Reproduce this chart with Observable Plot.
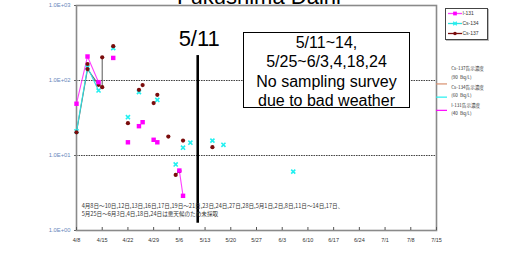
<!DOCTYPE html>
<html><head><meta charset="utf-8">
<script src="https://cdn.jsdelivr.net/npm/d3@7"></script>
<script src="https://cdn.jsdelivr.net/npm/@observablehq/plot@0.6"></script>
<style>
body{margin:0;background:#fff;font-family:"Liberation Sans",Arial,sans-serif;}
#wrap{position:relative;width:518px;height:267px;overflow:hidden;}
#chart{position:absolute;left:0;top:0;}
#title{position:absolute;left:0;width:518px;top:-14px;text-align:center;font-size:22px;line-height:22px;color:#000;}
#note{position:absolute;left:243px;top:33px;width:167px;height:76px;box-sizing:border-box;border:1.5px solid #000;background:#fff;
 text-align:center;font-size:16px;line-height:19.3px;padding-top:0;margin-top:-1px;color:#000;}
#legend{position:absolute;left:445px;top:8px;width:43px;height:32px;box-sizing:border-box;border:1.5px solid #444;background:#fff;box-shadow:1px 1px 0 #bbb;}
</style></head>
<body><div id="wrap"><div id="chart"></div><div id="title"></div><div id="note"></div><div id="legend"></div></div>
<script>
// ---- data ----
const title = "Fukushima Daini";
const xTickLabels = ["4/8","4/15","4/22","4/29","5/6","5/13","5/20","5/27","6/3","6/10","6/17","6/24","7/1","7/8","7/15"];
const yTickValues = [1, 10, 100, 1000];
const yTickLabels = ["1.0E+00","1.0E+01","1.0E+02","1.0E+03"];

const i131Dates  = ["4/8","4/11","4/14","4/18","4/22","4/25","4/26","4/29","4/30","5/6","5/7"];
const i131Values = [49, 209, 95, 200, 15, 24.6, 27.8, 16.2, 15, 6.3, 2.9];
const i131Runs   = [1, 1, 1, 0, 0, 0, 0, 0, 0, 2, 2];

const cs134Dates  = ["4/8","4/11","4/14","4/18","4/22","4/25","4/30","5/5","5/7","5/9","5/15","5/18","6/6"];
const cs134Values = [21, 150, 73.6, 270, 32.4, 70, 55, 7.6, 12.7, 14.8, 15.8, 13.9, 6.1];
const cs134Runs   = [1, 1, 1, 0, 0, 0, 0, 0, 0, 0, 0, 0, 0];

const cs137Dates  = ["4/8","4/11","4/11","4/14","4/15","4/15","4/18","4/22","4/25","4/26","4/29","4/30","5/3","5/5","5/6","5/7","5/15"];
const cs137Values = [20.4, 142, 166, 87.6, 81.5, 204, 287, 27, 75, 87, 50, 64.5, 17.9, 5.5, 6.2, 15.8, 12.9];
const cs137Runs   = [1, 1, 0, 1, 1, 1, 0, 0, 0, 0, 0, 0, 0, 2, 2, 0, 0];

const seriesNames  = ["I-131", "Cs-134", "Cs-137"];
const seriesColors = ["#ff00ff", "#22f0f0", "#7a0c0c"];
const lineColors   = ["#ff40ff", "#30e0e0", "#666666"];

const limitNames  = ["Cs-137告示濃度", "Cs-134告示濃度", "I-131告示濃度"];
const limitUnits  = ["(90  Bq/L)", "(60  Bq/L)", "(40  Bq/L)"];
const limitValues = [90, 60, 40];
const limitColors = ["#d8906e", "#22f0f0", "#ff00ff"];

const eventDate = "5/11";
const eventLabel = "5/11";
const noteLines = ["5/11~14,", "5/25~6/3,4,18,24", "No sampling survey", "due to bad weather"];
const jpNote = ["4月8日～10日,12日,13日,16日,17日,19日～21日,23日,24日,27日,28日,5月1日,2日,8日,11日～14日,17日、",
                "5月25日～6月3日,4日,18日,24日は悪天候のため未採取"];

// ---- build ----
const parse = s => { const [m, d] = s.split("/").map(Number); return new Date(2011, m - 1, d); };
const rows = (name, dates, values, runs) => dates.map((d, i) => ({series: name, date: parse(d), value: values[i], run: runs[i]}));
const data = [
  ...rows("I-131", i131Dates, i131Values, i131Runs),
  ...rows("Cs-134", cs134Dates, cs134Values, cs134Runs),
  ...rows("Cs-137", cs137Dates, cs137Values, cs137Runs)
];
const colorOf = n => seriesColors[seriesNames.indexOf(n)];
const lineOf = n => lineColors[seriesNames.indexOf(n)];
const tickDates = xTickLabels.map(parse);
const shift = (s, days) => { const d = parse(s); d.setDate(d.getDate() + days); return d; };
const xEnd = xTickLabels[xTickLabels.length - 1];

const limits = limitValues.map((v, i) => ({name: limitNames[i], unit: limitUnits[i], value: v, color: limitColors[i]}));
const limitDy = [-12, -6.5, -2];

const plot = Plot.plot({
  width: 518, height: 267,
  marginLeft: 76, marginRight: 82, marginTop: 5, marginBottom: 37,
  style: {background: "transparent", fontFamily: "Liberation Sans, Arial, sans-serif"},
  x: {type: "time", domain: [parse(xTickLabels[0]), parse(xEnd)], label: null},
  y: {type: "log", domain: [1, 1000], label: null},
  color: {type: "identity"},
  marks: [
    Plot.ruleY([10, 100], {stroke: "#444", strokeDasharray: "1.6,0.9", strokeWidth: 1}),
    Plot.frame({stroke: "#8a8a8a", strokeWidth: 1.6}),
    Plot.axisX({ticks: tickDates, tickFormat: d => xTickLabels[tickDates.findIndex(t => +t === +d)],
      tickSize: -3, tickPadding: 11, fontSize: 5.5, fill: "#333", stroke: "#555", label: null}),
    Plot.axisY({ticks: yTickValues, tickFormat: d => yTickLabels[yTickValues.indexOf(d)],
      tickSize: 2, tickPadding: 4, fontSize: 5.8, fill: "#6688bb", stroke: "#666", label: null}),
    // limit markers on the right
    Plot.ruleY(limits, {y: "value", x1: parse(xEnd), x2: shift(xEnd, 3.3), stroke: "color", strokeWidth: 1.2}),
    ...limits.map((l, i) => Plot.text([l], {x: shift(xEnd, 4.5), y: "value", text: d => d.name + "\n" + d.unit,
      textAnchor: "start", fontSize: 4.6, lineHeight: 1.75, fill: "#333", dy: limitDy[i], lineAnchor: "middle",
      fontFamily: "Noto Sans CJK JP, sans-serif"})),
    // series lines
    Plot.line(data.filter(d => d.run > 0 && d.series === "Cs-137"), {x: "date", y: "value", z: d => d.run, stroke: lineOf("Cs-137"), strokeWidth: 1.1}),
    Plot.line(data.filter(d => d.run > 0 && d.series === "Cs-134"), {x: "date", y: "value", z: d => d.run, stroke: lineOf("Cs-134"), strokeWidth: 1.1}),
    Plot.line(data.filter(d => d.run > 0 && d.series === "I-131"), {x: "date", y: "value", z: d => d.run, stroke: lineOf("I-131"), strokeWidth: 1.1}),
    // points
    Plot.dot(data.filter(d => d.series === "Cs-134"), {x: "date", y: "value", symbol: "times", r: 2, stroke: colorOf("Cs-134"), strokeWidth: 1.6}),
    Plot.dot(data.filter(d => d.series === "Cs-137"), {x: "date", y: "value", symbol: "circle", r: 2.1, fill: colorOf("Cs-137")}),
    Plot.dot(data.filter(d => d.series === "I-131"), {x: "date", y: "value", symbol: "square", r: 2.5, fill: colorOf("I-131")}),
    // event line
    Plot.ruleX([parse(eventDate)], {y1: 1.25, y2: 215, stroke: "#000", strokeWidth: 2.6}),
    Plot.text([eventLabel], {x: parse(eventDate), y: 290, text: d => d, fontSize: 22, lineAnchor: "bottom", fill: "#000", dx: 1.5}),
    // japanese note
    Plot.text([jpNote.join("\n")], {x: parse("4/9"), y: 1.9, text: d => d, textAnchor: "start", fontSize: 5.6, lineHeight: 1.35,
      fill: "#333", dx: 1.5, fontFamily: "Noto Sans CJK JP, sans-serif"})
  ]
});
document.getElementById("chart").appendChild(plot);
document.getElementById("title").textContent = title;
document.getElementById("note").innerHTML = noteLines.map(s => `<div>${s}</div>`).join("");

// legend
const lg = d3.select("#legend").append("svg").attr("width", 40).attr("height", 29).style("display", "block");
seriesNames.forEach((n, i) => {
  const y = 4.5 + i * 10;
  const g = lg.append("g").attr("transform", `translate(0,${y})`);
  g.append("line").attr("x1", 2).attr("x2", 16).attr("y1", 0).attr("y2", 0).attr("stroke", i === 2 ? colorOf(n) : lineOf(n)).attr("stroke-width", 1.3);
  const sym = [d3.symbolSquare, d3.symbolTimes, d3.symbolCircle][i];
  g.append("path").attr("d", d3.symbol(sym, i === 0 ? 14 : 10)()).attr("transform", "translate(9,0)")
    .attr("fill", i === 1 ? "none" : colorOf(n)).attr("stroke", i === 1 ? colorOf(n) : "none").attr("stroke-width", 1.3);
  g.append("text").attr("x", 16.5).attr("y", 1.8).attr("font-size", 5).attr("fill", "#333").text(n);
});
</script></body></html>
